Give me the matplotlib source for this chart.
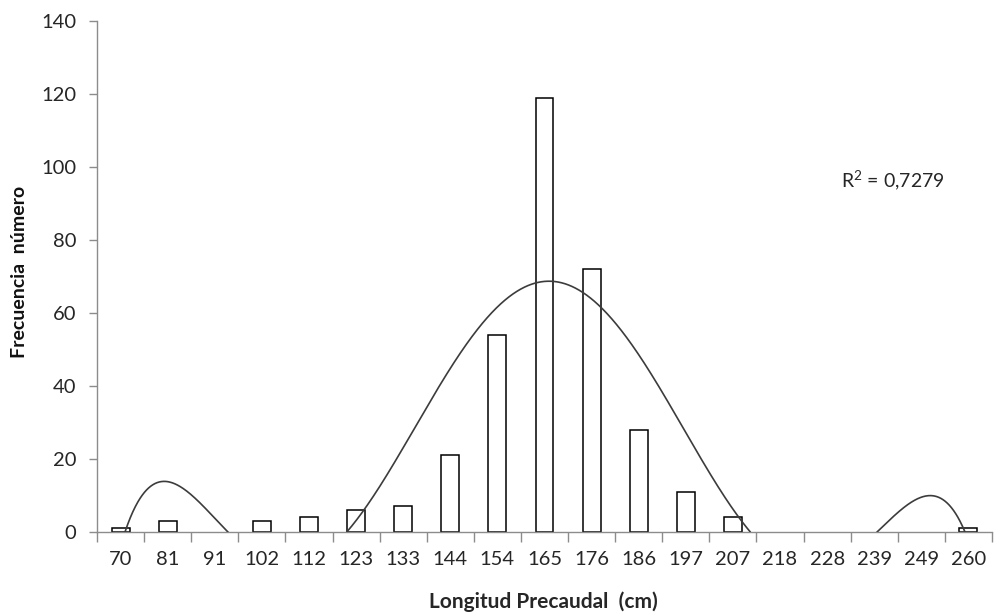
import numpy as np
import matplotlib
matplotlib.use("Agg")
import matplotlib.pyplot as plt

categories = ["70", "81", "91", "102", "112", "123", "133", "144", "154", "165",
              "176", "186", "197", "207", "218", "228", "239", "249", "260"]
frequencies = [1, 3, 0, 3, 4, 6, 7, 21, 54, 119, 72, 28, 11, 4, 0, 0, 0, 0, 1]
r2_label = "R$^{2}$ = 0,7279"
poly_order = 6

plt.rcParams['font.family'] = ['Lato', 'DejaVu Sans']
plt.rcParams['mathtext.fontset'] = 'custom'
plt.rcParams['mathtext.rm'] = 'Lato'

TXT = "#262626"
AXC = "#8c8c8c"

fig = plt.figure(figsize=(9.97, 6.15), dpi=100)
ax = fig.add_axes([97 / 997, 83 / 615, 895 / 997, 511 / 615])

x = np.arange(1, len(categories) + 1)
y = np.array(frequencies, dtype=float)
nz = y > 0
ax.bar(x[nz], y[nz], width=0.38, facecolor="white", edgecolor="black",
       linewidth=1.1, zorder=2)

# Excel-style polynomial trendline over category index
coef = np.polyfit(x, y, poly_order)
xs = np.linspace(1, len(categories), 2000)
ys = np.polyval(coef, xs)
ys = np.where(ys < 0, np.nan, ys)
ax.plot(xs, ys, color="#3c3c3c", linewidth=1.2, zorder=3)

ax.set_xlim(0.5, len(categories) + 0.5)
ax.set_ylim(0, 140)
ax.set_yticks(np.arange(0, 141, 20))
ax.set_xticks(x)
ax.set_xticklabels(categories)
ax.set_xticks(np.arange(0.5, len(categories) + 1, 1), minor=True)
ax.tick_params(axis='x', which='major', length=0, pad=14, labelsize=14.5, labelcolor=TXT)
ax.tick_params(axis='x', which='minor', length=7, width=1, color=AXC, direction='out')
ax.tick_params(axis='y', length=6, width=1, color=AXC, labelsize=14.5, pad=9,
               labelcolor=TXT)

for s in ['top', 'right']:
    ax.spines[s].set_visible(False)
for s in ['left', 'bottom']:
    ax.spines[s].set_color(AXC)
    ax.spines[s].set_linewidth(1)

fig.text(543 / 997, 1 - 602 / 615, "Longitud Precaudal  (cm)", fontsize=15,
         fontweight='bold', color=TXT, ha='center', va='center')
fig.text(20 / 997, 1 - 272 / 615, "Frecuencia  número", fontsize=14,
         fontweight='bold', color="#111111", ha='center', va='center', rotation=90)

ax.text(16.3, 96.3, r2_label, fontsize=14, color=TXT, va='center', ha='left')

fig.savefig("out.png", dpi=100)
